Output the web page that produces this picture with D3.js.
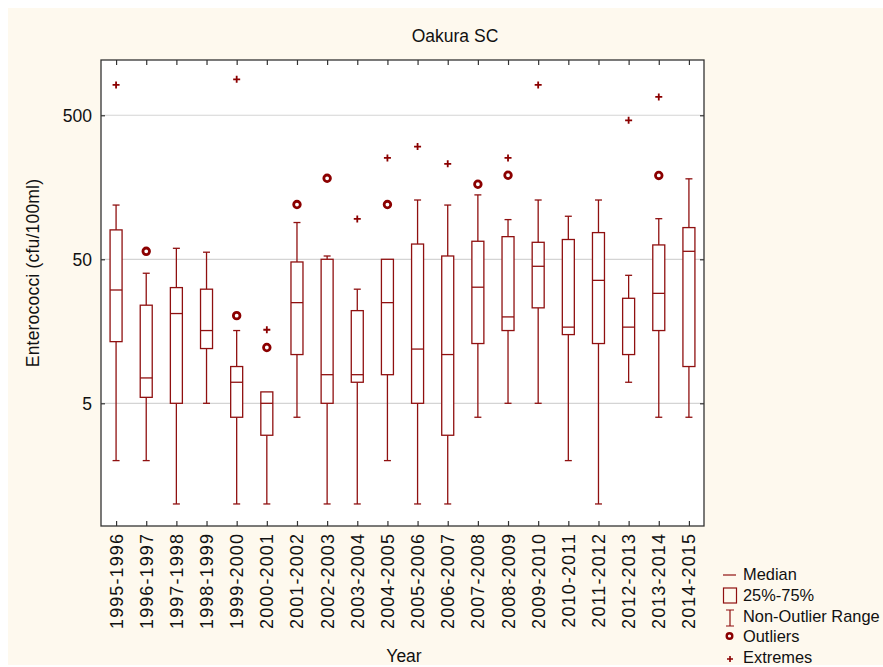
<!DOCTYPE html>
<html>
<head>
<meta charset="utf-8">
<script src="https://cdn.jsdelivr.net/npm/d3@7"></script>
<style>
  html, body { margin: 0; padding: 0; background: #ffffff; }
  svg { display: block; font-family: "Liberation Sans", Arial, sans-serif; }
</style>
</head>
<body>
<svg id="chart" width="883" height="667"></svg>
<script>
// ---- data ----
const categories = ["1995-1996","1996-1997","1997-1998","1998-1999","1999-2000","2000-2001","2001-2002",
  "2002-2003","2003-2004","2004-2005","2005-2006","2006-2007","2007-2008","2008-2009","2009-2010",
  "2010-2011","2011-2012","2012-2013","2013-2014","2014-2015"];
const whiskerLow  = [2, 2, 1, 5, 1, 1, 4, 1, 1, 2, 1, 1, 4, 5, 5, 2, 1, 7, 4, 4];
const q1          = [13.4, 5.5, 5, 12, 4, 3, 10.9, 5, 7, 7.9, 5, 3, 13, 16, 23, 15, 13, 10.9, 16, 9];
const medians     = [30.6, 7.5, 21, 16, 7, 5, 25, 7.9, 7.9, 25, 11.9, 10.9, 32, 19.9, 44.7, 16.9, 35.7, 16.9, 29, 56.8];
const q3          = [80, 24, 31.8, 31, 9, 6, 47.9, 50, 22, 50, 63.8, 52.7, 66.7, 71.8, 65.6, 68.6, 76.6, 26.8, 62.9, 83];
const whiskerHigh = [119, 40, 59.6, 56, 16, 6, 90, 52.7, 31, 50, 129, 119, 140, 94.3, 129, 99.5, 129, 38.7, 95.7, 181];
const outliers    = [[], [56.8], [], [], [20.3], [12.2], [120], [182.6], [], [120], [], [], [166], [191.6], [], [], [], [], [191], []];
const extremes    = [[812], [], [], [], [889], [16.2], [], [], [95.3], [253], [303], [230], [], [253], [812], [], [], [461], [670], []];
const yTicks = [5, 50, 500];
const legendLabels = ["Median", "25%-75%", "Non-Outlier Range", "Outliers", "Extremes"];

// ---- layout ----
const svg = d3.select("#chart");
const L = 101, R = 704, T = 60, B = 526;
const col = "#8f1010";

svg.append("rect").attr("x", 8).attr("y", 8).attr("width", 875).attr("height", 657).attr("fill", "#fef9ee");
svg.append("rect").attr("x", L).attr("y", T).attr("width", R - L).attr("height", B - T).attr("fill", "#ffffff");

const x = d3.scalePoint().domain(categories).range([L, R]).padding(0.5);
const y = d3.scaleLog().domain([0.703, 1210]).range([B, T]);

// grid
svg.append("g").selectAll("line").data(yTicks).join("line")
  .attr("x1", L).attr("x2", R).attr("y1", d => y(d)).attr("y2", d => y(d))
  .attr("stroke", "#d4d4d4").attr("stroke-width", 1.2);

// axes (ticks inside)
const axL = svg.append("g").attr("transform", `translate(${L},0)`)
  .call(d3.axisRight(y).tickValues(yTicks).tickSize(4).tickFormat(""));
const axR = svg.append("g").attr("transform", `translate(${R},0)`)
  .call(d3.axisLeft(y).tickValues(yTicks).tickSize(4).tickFormat(""));
const axB = svg.append("g").attr("transform", `translate(0,${B})`)
  .call(d3.axisTop(x).tickSize(5).tickFormat(""));
const axT = svg.append("g").attr("transform", `translate(0,${T})`)
  .call(d3.axisBottom(x).tickSize(5).tickFormat(""));
[axL, axR, axB, axT].forEach(a => {
  a.select(".domain").remove();
  a.selectAll("line").attr("stroke", "#333").attr("stroke-width", 1.2);
});

// y tick labels
svg.append("g").selectAll("text").data(yTicks).join("text")
  .attr("x", 92).attr("y", d => y(d)).attr("dy", "0.36em")
  .attr("text-anchor", "end").attr("font-size", 17.5).attr("fill", "#111")
  .text(d => d);

// x tick labels
svg.append("g").selectAll("text").data(categories).join("text")
  .attr("transform", d => `translate(${x(d)},${B + 7}) rotate(-90)`)
  .attr("dy", "0.36em").attr("text-anchor", "end")
  .attr("font-size", 18).attr("letter-spacing", "1.1px").attr("fill", "#111")
  .text(d => d);

// boxes
const bw = 12, cw = 7;
const g = svg.append("g").attr("fill", "none").attr("stroke", col).attr("stroke-width", 1.3);
categories.forEach((c, i) => {
  const cx = x(c);
  g.append("line").attr("x1", cx).attr("x2", cx).attr("y1", y(q3[i])).attr("y2", y(whiskerHigh[i]));
  g.append("line").attr("x1", cx).attr("x2", cx).attr("y1", y(q1[i])).attr("y2", y(whiskerLow[i]));
  if (whiskerHigh[i] > q3[i] * 1.01)
    g.append("line").attr("x1", cx - cw / 2).attr("x2", cx + cw / 2).attr("y1", y(whiskerHigh[i])).attr("y2", y(whiskerHigh[i]));
  if (whiskerLow[i] < q1[i] * 0.99)
    g.append("line").attr("x1", cx - cw / 2).attr("x2", cx + cw / 2).attr("y1", y(whiskerLow[i])).attr("y2", y(whiskerLow[i]));
  g.append("rect").attr("x", cx - bw / 2).attr("width", bw)
    .attr("y", y(q3[i])).attr("height", y(q1[i]) - y(q3[i])).attr("fill", "#ffffff");
  g.append("line").attr("x1", cx - bw / 2).attr("x2", cx + bw / 2).attr("y1", y(medians[i])).attr("y2", y(medians[i]));
  outliers[i].forEach(v => {
    svg.append("circle").attr("cx", cx).attr("cy", y(v)).attr("r", 3.3)
      .attr("fill", "#ffffff").attr("stroke", "#8b0000").attr("stroke-width", 2.8);
  });
  extremes[i].forEach(v => {
    svg.append("path").attr("d", `M${cx - 3.5},${y(v)}H${cx + 3.5}M${cx},${y(v) - 3.5}V${y(v) + 3.5}`)
      .attr("stroke", "#8b0000").attr("stroke-width", 1.8).attr("fill", "none");
  });
});

// frame
svg.append("rect").attr("x", L).attr("y", T).attr("width", R - L).attr("height", B - T)
  .attr("fill", "none").attr("stroke", "#333").attr("stroke-width", 1.3);

// titles
svg.append("text").attr("x", 455).attr("y", 42).attr("text-anchor", "middle")
  .attr("font-size", 17.5).attr("fill", "#111").text("Oakura SC");
svg.append("text").attr("transform", "translate(39,273) rotate(-90)").attr("text-anchor", "middle")
  .attr("font-size", 17.5).attr("letter-spacing", "0.2px").attr("fill", "#111").text("Enterococci (cfu/100ml)");
svg.append("text").attr("x", 404).attr("y", 662).attr("text-anchor", "middle")
  .attr("font-size", 17.5).attr("fill", "#111").text("Year");

// legend
const lg = svg.append("g");
const lx = 743, rowsY = [580, 601, 622, 642, 663];
lg.selectAll("text").data(legendLabels).join("text")
  .attr("x", lx).attr("y", (d, i) => rowsY[i]).attr("font-size", 16.4).attr("fill", "#111").text(d => d);
lg.append("line").attr("x1", 723).attr("x2", 736).attr("y1", 575).attr("y2", 575).attr("stroke", col).attr("stroke-width", 1.2);
lg.append("rect").attr("x", 723.5).attr("y", 588).attr("width", 13).attr("height", 15).attr("fill", "none").attr("stroke", col).attr("stroke-width", 1.2);
lg.append("path").attr("d", "M726,610H734M730,610V626M726,626H734").attr("fill", "none").attr("stroke", col).attr("stroke-width", 1.2);
lg.append("circle").attr("cx", 729.5).attr("cy", 636).attr("r", 2.8).attr("fill", "#fff").attr("stroke", "#8b0000").attr("stroke-width", 2.4);
lg.append("path").attr("d", "M727,659H733M730,656V662").attr("fill", "none").attr("stroke", "#8b0000").attr("stroke-width", 1.6);
</script>
</body>
</html>
